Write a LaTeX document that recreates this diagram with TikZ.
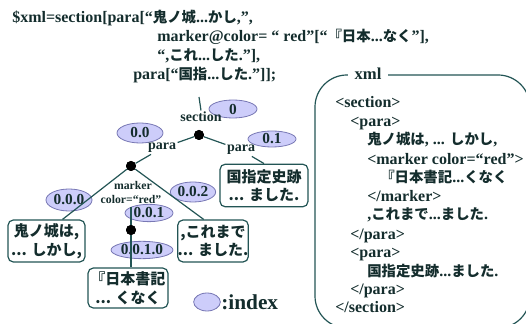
\documentclass[tikz,border=0pt]{standalone}
\usepackage{fontspec}
\setmainfont{Liberation Serif}
\newfontfamily\jp[Scale=0.9]{Noto Sans CJK JP}
\usetikzlibrary{shapes.geometric}
\definecolor{txt}{RGB}{20,45,45}
\definecolor{ln}{RGB}{35,85,85}
\definecolor{idxfill}{RGB}{205,205,250}
\definecolor{idxdraw}{RGB}{120,120,180}
\newcommand\J[1]{{\jp #1}}
\begin{document}
\begin{tikzpicture}[x=0.75pt,y=-0.75pt,
 every node/.style={text=txt},
 codeline/.style={anchor=base west, inner sep=0pt, font=\bfseries\fontsize{12}{14}\selectfont},
 xmlline/.style={anchor=base west, inner sep=0pt, font=\bfseries\fontsize{12}{14}\selectfont},
 tag/.style={inner sep=1pt, font=\bfseries\fontsize{10.5}{12}\selectfont},
 smalltag/.style={inner sep=1pt, font=\bfseries\fontsize{8.8}{10}\selectfont},
 idx/.style={ellipse, draw=idxdraw, fill=idxfill, line width=0.6pt, inner sep=0pt, font=\bfseries\fontsize{11.5}{12}\selectfont},
 leaf/.style={draw=ln, line width=0.9pt, rounded corners=4pt, fill=white, align=center, inner sep=0pt, font=\jp\bfseries\fontsize{12.5}{14}\selectfont},
 dotnode/.style={circle, fill=black, inner sep=0pt, minimum size=7.5pt},
 conn/.style={draw=ln, line width=0.9pt},
 frame/.style={draw=ln, line width=0.9pt, rounded corners=24pt},
]
\useasboundingbox (0,0) rectangle (526,324);
\clip (0,0) rectangle (526,324);

% code
\node[codeline] (c1) at (12,23) {\$xml=section[para[“\J{鬼ノ城}...\J{かし},”,};
\node[codeline] (c2) at (157,42) {marker@color= “ red”[“\J{『日本}...\J{なく}”],};
\node[codeline] (c3) at (157,61) {“,\J{これ}...\J{した}.”],};
\node[codeline] (c4) at (133,80) {para[“\J{国指}...\J{した}.”]];};

% index ellipses
\node[idx, minimum width=36pt, minimum height=13.5pt] (e0) at (233,109) {0};
\node[idx, minimum width=34.5pt, minimum height=15pt] (e00) at (140,133) {0.0};
\node[idx, minimum width=36pt, minimum height=12pt] (e01) at (272,139) {0.1};
\node[idx, minimum width=34.5pt, minimum height=16.5pt] (e000) at (69,200) {0.0.0};
\node[idx, minimum width=34pt, minimum height=15pt] (e002) at (193,192) {0.0.2};
\node[idx, minimum width=36pt, minimum height=13pt] (e001) at (149,213) {0.0.1};
\node[idx, minimum width=46.5pt, minimum height=13pt] (e0010) at (142,250) {0.0.1.0};

% tree labels and dots
\node[tag] (section) at (201,117) {section};
\node[tag] (paraL) at (162,148) {para};
\node[tag] (paraR) at (241,150) {para};
\node[smalltag] (marker) at (133,185) {marker};
\node[smalltag] (color) at (131,199) {color=“red”};
\node[dotnode] (dot1) at (199,135) {};
\node[dotnode] (dot2) at (131,166) {};
\node[dotnode] (dot3) at (131,230) {};
\coordinate (tick) at (199,97);
\coordinate (vtop) at (131,207);

% leaf boxes
\node[leaf, minimum width=57.75pt, minimum height=31.5pt] (box1) at (46.5,241) {鬼ノ城は,\\... しかし,};
\node[leaf, minimum width=52.5pt, minimum height=31.5pt] (box3) at (213,241) {,これまで\\... ました.};
\node[leaf, minimum width=60pt, minimum height=30pt] (box2) at (128,288) {『日本書記\\... くなく};
\node[leaf, minimum width=66pt, minimum height=32pt] (boxr) at (264,185.5) {国指定史跡\\... ました.};

% connectors
\draw[conn] (tick) -- (section.north);
\draw[conn] (dot1) -- (paraL);
\draw[conn] (dot1) -- (paraR);
\draw[conn] (paraR) -- (boxr.north);
\draw[conn] (paraL) -- (dot2);
\draw[conn] (dot2) -- ([xshift=12pt]box1.north);
\draw[conn] (dot2) -- ([xshift=-7pt]box3.north);
\draw[conn] (vtop) -- (dot3) -- (box2.north -| dot3);
\node[dotnode] at (dot1) {};
\node[dotnode] at (dot2) {};
\node[dotnode] at (dot3) {};

% legend
\node[idx, minimum width=20pt, minimum height=13.5pt] (leg) at (207,302) {};
\node[anchor=west, inner sep=0pt, font=\bfseries\fontsize{16}{18}\selectfont] (legtext) at (221,302) {:index};

% xml frame
\draw[frame] (315,75) rectangle (530,328);
\node[fill=white, inner xsep=5pt, inner ysep=1pt, font=\bfseries\fontsize{12.5}{14}\selectfont] (xmllabel) at (368,74) {xml};
\node[xmlline] (x1) at (335,108) {<section>};
\node[xmlline] (x2) at (350,127) {<para>};
\node[xmlline] (x3) at (367,145) {\J{鬼ノ城は}, ... \J{しかし},};
\node[xmlline] (x4) at (367,165) {<marker color=“red">};
\node[xmlline] (x5) at (380,183) {\J{『日本書記}...\J{くなく}};
\node[xmlline] (x6) at (367,202) {</marker>};
\node[xmlline] (x7) at (367,220) {,\J{これまで}...\J{ました}.};
\node[xmlline] (x8) at (350,240) {</para>};
\node[xmlline] (x9) at (350,258) {<para>};
\node[xmlline] (x10) at (367,277) {\J{国指定史跡}...\J{ました}.};
\node[xmlline] (x11) at (350,295) {</para>};
\node[xmlline] (x12) at (335,313) {</section>};
\end{tikzpicture}
\end{document}
